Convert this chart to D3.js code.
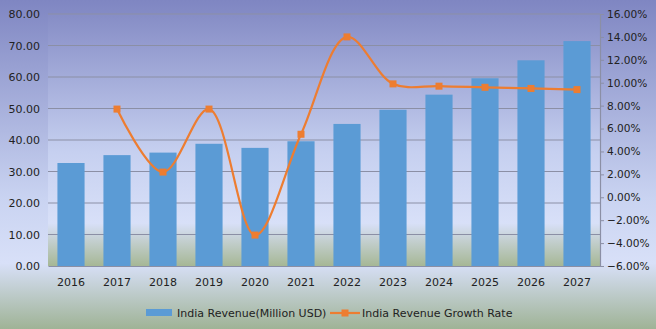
<!DOCTYPE html>
<html>
<head>
<meta charset="utf-8">
<script src="https://cdn.jsdelivr.net/npm/d3@7"></script>
<style>
  html, body { margin: 0; padding: 0; }
  text { font-family: "DejaVu Sans", Verdana, sans-serif; }
</style>
</head>
<body>
<div id="chart"></div>
<script>
// Data
var years = ["2016", "2017", "2018", "2019", "2020", "2021", "2022", "2023", "2024", "2025", "2026", "2027"];
var revenue = [32.7, 35.2, 36.0, 38.8, 37.5, 39.6, 45.1, 49.6, 54.4, 59.6, 65.3, 71.4];
var growth = [null, 7.7, 2.2, 7.7, -3.3, 5.5, 14.0, 9.9, 9.7, 9.6, 9.5, 9.4];
var leftTicks = [0, 10, 20, 30, 40, 50, 60, 70, 80];
var rightTicks = [-6, -4, -2, 0, 2, 4, 6, 8, 10, 12, 14, 16];

var W = 656, H = 329;
var margin = { top: 14, right: 56, bottom: 63, left: 48 },
    width = W - margin.left - margin.right,
    height = H - margin.top - margin.bottom;

var root = d3.select("#chart").append("svg")
    .attr("width", W)
    .attr("height", H);

var defs = root.append("defs");

// Chart background gradient
var bg = defs.append("linearGradient")
    .attr("id", "bgGrad")
    .attr("x1", 0).attr("y1", 0).attr("x2", 0).attr("y2", 1);
bg.append("stop").attr("offset", "0%").attr("stop-color", "#7f86c2");
bg.append("stop").attr("offset", "60%").attr("stop-color", "#c9d3f1");
bg.append("stop").attr("offset", "80%").attr("stop-color", "#d8e0f8");
bg.append("stop").attr("offset", "100%").attr("stop-color", "#9fb396");

// Plot area gradient
var pg = defs.append("linearGradient")
    .attr("id", "plotGrad")
    .attr("x1", 0).attr("y1", 0).attr("x2", 0).attr("y2", 1);
pg.append("stop").attr("offset", "0%").attr("stop-color", "#868dc6");
pg.append("stop").attr("offset", "55%").attr("stop-color", "#c6d0f0");
pg.append("stop").attr("offset", "83%").attr("stop-color", "#d8e0f8");
pg.append("stop").attr("offset", "100%").attr("stop-color", "#a6b795");

root.append("rect")
    .attr("width", W)
    .attr("height", H)
    .attr("fill", "url(#bgGrad)");

var svg = root.append("g")
    .attr("transform", "translate(" + margin.left + "," + margin.top + ")");

svg.append("rect")
    .attr("width", width)
    .attr("height", height)
    .attr("fill", "url(#plotGrad)");

// Scales
var x = d3.scaleBand()
    .domain(years)
    .range([0, width])
    .paddingInner(0.41)
    .paddingOuter(0.205);
var y = d3.scaleLinear()
    .domain([0, 80])
    .range([height, 0]);
var y2 = d3.scaleLinear()
    .domain([-6, 16])
    .range([height, 0]);

// Gridlines
svg.selectAll(".grid")
    .data(leftTicks.slice(1))
    .enter().append("line")
    .attr("class", "grid")
    .attr("x1", 0)
    .attr("x2", width)
    .attr("y1", d => y(d))
    .attr("y2", d => y(d))
    .attr("stroke", "#8b8fa5")
    .attr("stroke-width", 1.2);

// Bars
svg.selectAll(".bar")
    .data(revenue)
    .enter().append("rect")
    .attr("class", "bar")
    .attr("x", (d, i) => x(years[i]))
    .attr("width", x.bandwidth())
    .attr("y", d => y(d))
    .attr("height", d => height - y(d))
    .attr("fill", "#5b9bd5");

// x axis
var xAxis = svg.append("g")
    .attr("transform", "translate(0," + height + ")")
    .call(d3.axisBottom(x).tickSize(0).tickPadding(12));
xAxis.select(".domain").attr("stroke", "#8b8fa5").attr("stroke-width", 1.2);
xAxis.selectAll("text").style("font-size", "11px").attr("fill", "#222");

// Left axis
var yAxis = svg.append("g")
    .call(d3.axisLeft(y).tickValues(leftTicks).tickSize(0).tickPadding(8)
        .tickFormat(d3.format(".2f")));
yAxis.select(".domain").remove();
yAxis.selectAll("text").style("font-size", "11px").attr("fill", "#222");

// Right axis
var y2Axis = svg.append("g")
    .attr("transform", "translate(" + width + ",0)")
    .call(d3.axisRight(y2).tickValues(rightTicks).tickSize(4).tickPadding(3)
        .tickFormat(d => d3.format(".2f")(d) + "%"));
y2Axis.select(".domain").attr("stroke", "#8b8fa5").attr("stroke-width", 1.2);
y2Axis.selectAll("line").attr("stroke", "#8b8fa5");
y2Axis.selectAll("text").style("font-size", "10.6px").attr("fill", "#222");

// Growth rate line
var pts = growth.map((g, i) => ({ year: years[i], g: g })).filter(d => d.g !== null);
var line = d3.line()
    .x(d => x(d.year) + x.bandwidth() / 2)
    .y(d => y2(d.g))
    .curve(d3.curveCatmullRom.alpha(0.5));

svg.append("path")
    .datum(pts)
    .attr("d", line)
    .attr("fill", "none")
    .attr("stroke", "#ed7d31")
    .attr("stroke-width", 2.2);

svg.selectAll(".marker")
    .data(pts)
    .enter().append("rect")
    .attr("class", "marker")
    .attr("x", d => x(d.year) + x.bandwidth() / 2 - 3.5)
    .attr("y", d => y2(d.g) - 3.5)
    .attr("width", 7)
    .attr("height", 7)
    .attr("fill", "#ed7d31");

// Legend
var legend = root.append("g")
    .attr("transform", "translate(0,313)");
legend.append("rect")
    .attr("x", 146).attr("y", -4)
    .attr("width", 26).attr("height", 7)
    .attr("fill", "#5b9bd5");
legend.append("text")
    .attr("x", 177).attr("y", 4)
    .style("font-size", "11px")
    .attr("fill", "#222")
    .text("India Revenue(Million USD)");
legend.append("line")
    .attr("x1", 330).attr("x2", 360)
    .attr("y1", 0).attr("y2", 0)
    .attr("stroke", "#ed7d31")
    .attr("stroke-width", 2.2);
legend.append("rect")
    .attr("x", 341.5).attr("y", -3.5)
    .attr("width", 7).attr("height", 7)
    .attr("fill", "#ed7d31");
legend.append("text")
    .attr("x", 362).attr("y", 4)
    .style("font-size", "11px")
    .attr("fill", "#222")
    .text("India Revenue Growth Rate");
</script>
</body>
</html>
